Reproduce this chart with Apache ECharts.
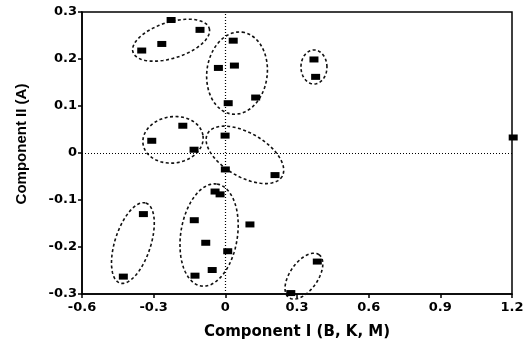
<!DOCTYPE html>
<html>
<head>
<meta charset="utf-8">
<title>Component plot</title>
<script src="https://cdn.jsdelivr.net/npm/echarts@6/dist/echarts.min.js"></script>
<style>
  html, body { margin: 0; padding: 0; background: #fff; }
  #main { width: 531px; height: 345px; }
</style>
</head>
<body>
<div id="main"></div>
<script type="text/javascript">
// component scores: [Component I, Component II]
var pointsX = [-0.35, -0.266, -0.227, -0.106,
               0.033, -0.029, 0.038, 0.012, 0.127,
               0.371, 0.378,
               -0.308, -0.178, -0.131,
               -0.001, 0.000, 0.208,
               1.205,
               -0.043, -0.022, -0.130, -0.082, 0.010, -0.055, -0.127,
               0.103,
               -0.343, -0.427,
               0.385, 0.274];
var pointsY = [0.218, 0.232, 0.283, 0.262,
               0.239, 0.181, 0.186, 0.106, 0.118,
               0.199, 0.162,
               0.026, 0.058, 0.007,
               0.037, -0.035, -0.047,
               0.033,
               -0.082, -0.088, -0.143, -0.191, -0.209, -0.249, -0.261,
               -0.152,
               -0.130, -0.263,
               -0.231, -0.298];

// dashed groups: centre and two half-axis vectors, all in data units
var ellCx = [-0.227, 0.049, 0.371, -0.219, 0.082, -0.068, -0.387, 0.329];
var ellCy = [0.240, 0.170, 0.183, 0.028, -0.004, -0.1745, -0.1916, -0.262];
var ellAx = [0.1596, 0.0209, 0.0544, 0.1256, 0.1558, 0.0335, 0.0544, 0.0628];
var ellAy = [0.0255, 0.0872, 0, 0.0085, -0.0458, 0.1085, 0.0851, 0.0458];
var ellBx = [0.0226, 0.1256, 0, 0.0126, -0.046, 0.1172, 0.0712, 0.0481];
var ellBy = [-0.0366, -0.0077, 0.0362, -0.0489, -0.0405, -0.0094, -0.0117, -0.017];

var xTicks = { min: -0.6, max: 1.2, step: 0.3 };
var yTicks = { min: -0.3, max: 0.3, step: 0.1 };

var myChart = echarts.init(document.getElementById('main'));

var scatterData = [];
for (var i = 0; i < pointsX.length; i++) {
  scatterData.push([pointsX[i], pointsY[i]]);
}
var ellData = [];
for (var k = 0; k < ellCx.length; k++) {
  ellData.push([ellCx[k], ellCy[k], ellAx[k], ellAy[k], ellBx[k], ellBy[k]]);
}

function renderEllipse(params, api) {
  var cx = api.value(0), cy = api.value(1);
  var ax = api.value(2), ay = api.value(3);
  var bx = api.value(4), by = api.value(5);
  var pts = [];
  for (var t = 0; t < 72; t++) {
    var a = t / 72 * Math.PI * 2;
    var c = Math.cos(a), s = Math.sin(a);
    pts.push(api.coord([cx + ax * c + bx * s, cy + ay * c + by * s]));
  }
  return {
    type: 'polygon',
    shape: { points: pts },
    style: { fill: null, stroke: '#111', lineWidth: 1.6, lineDash: [3, 2.5] }
  };
}

var tickFont = { color: '#000', fontSize: 13, fontWeight: 'bold', fontFamily: 'DejaVu Sans' };

var option = {
  backgroundColor: '#fff',
  animation: false,
  grid: {
    left: 82, right: 19, top: 12, bottom: 51,
    show: true, borderColor: '#000', borderWidth: 1.5
  },
  xAxis: {
    type: 'value',
    min: xTicks.min, max: xTicks.max, interval: xTicks.step,
    name: 'Component I (B, K, M)',
    nameLocation: 'middle',
    nameGap: 31,
    nameTextStyle: { color: '#000', fontSize: 15, fontWeight: 'bold', fontFamily: 'DejaVu Sans' },
    axisLine: { onZero: false, lineStyle: { color: '#000', width: 1.5 } },
    axisTick: { show: true, length: 4, lineStyle: { color: '#000', width: 1.5 } },
    axisLabel: Object.assign({ margin: 7 }, tickFont),
    splitLine: { show: false }
  },
  yAxis: {
    type: 'value',
    min: yTicks.min, max: yTicks.max, interval: yTicks.step,
    name: 'Component II (A)',
    nameLocation: 'middle',
    nameGap: 53,
    nameTextStyle: {
      color: '#000', fontSize: 15, fontWeight: 'bold', fontFamily: 'Liberation Sans',
      padding: [0, 0, 0, 18]
    },
    axisLine: { onZero: false, lineStyle: { color: '#000', width: 1.5 } },
    axisTick: { show: true, length: 4, lineStyle: { color: '#000', width: 1.5 } },
    axisLabel: Object.assign({ margin: 5 }, tickFont),
    splitLine: { show: false }
  },
  series: [
    {
      type: 'custom',
      renderItem: renderEllipse,
      data: ellData,
      clip: false,
      silent: true,
      z: 2
    },
    {
      type: 'scatter',
      data: scatterData,
      symbol: 'rect',
      symbolSize: [9, 6],
      itemStyle: { color: '#000', opacity: 1 },
      clip: false,
      z: 3,
      markLine: {
        silent: true,
        symbol: ['none', 'none'],
        label: { show: false },
        lineStyle: { color: '#000', type: [1, 2], width: 1.2 },
        data: [{ xAxis: 0 }, { yAxis: 0 }]
      }
    }
  ]
};
myChart.setOption(option);
</script>
</body>
</html>
